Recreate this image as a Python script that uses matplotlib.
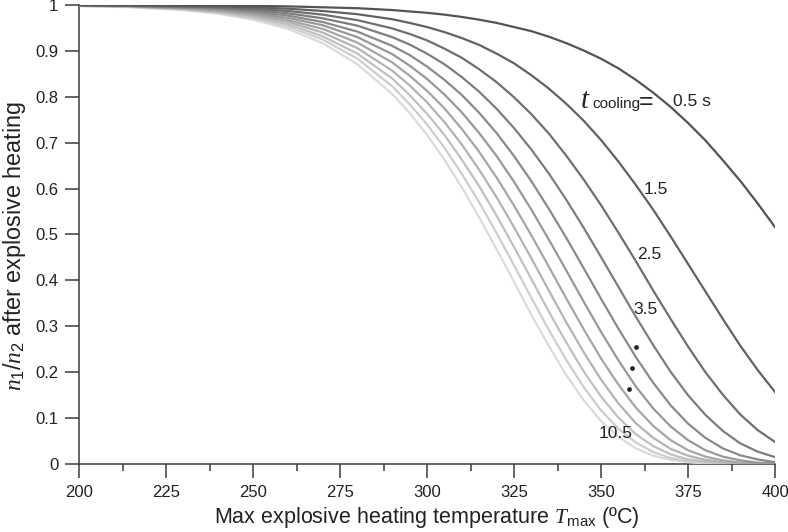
import matplotlib
matplotlib.use("Agg")
import matplotlib.pyplot as plt
import matplotlib.ticker as mticker

# Max explosive heating temperature (degC)
temperature = [200, 215, 230, 240, 250, 260, 270, 280, 290, 295, 300, 305, 310, 315, 320,
               325, 330, 335, 340, 345, 350, 355, 360, 365, 370, 375, 380, 385, 390, 395, 400]

# cooling times (s) and n1/n2
cooling_times = [0.5, 1.5, 2.5, 3.5, 4.5, 5.5, 6.5, 7.5, 8.5, 9.5, 10.5]
ratio_0p5 = [1.000, 1.000, 0.999, 0.999, 0.998, 0.997, 0.995, 0.993, 0.989, 0.986, 0.983, 0.979, 0.974, 0.968, 0.961,
             0.952, 0.943, 0.931, 0.917, 0.901, 0.883, 0.862, 0.837, 0.809, 0.778, 0.743, 0.705, 0.662, 0.617, 0.568, 0.516]
ratio_1p5 = [1.000, 0.999, 0.998, 0.997, 0.995, 0.992, 0.987, 0.980, 0.969, 0.961, 0.952, 0.941, 0.928, 0.913, 0.894,
             0.873, 0.847, 0.818, 0.785, 0.748, 0.706, 0.659, 0.608, 0.554, 0.496, 0.436, 0.376, 0.316, 0.258, 0.205, 0.157]
ratio_2p5 = [1.000, 0.999, 0.997, 0.995, 0.992, 0.987, 0.979, 0.967, 0.949, 0.937, 0.923, 0.905, 0.885, 0.860, 0.832,
             0.799, 0.762, 0.720, 0.672, 0.620, 0.564, 0.504, 0.442, 0.378, 0.316, 0.256, 0.200, 0.151, 0.108, 0.074, 0.048]
ratio_3p5 = [0.999, 0.998, 0.996, 0.994, 0.989, 0.982, 0.971, 0.955, 0.930, 0.914, 0.894, 0.871, 0.843, 0.811, 0.774,
             0.732, 0.685, 0.633, 0.576, 0.515, 0.451, 0.386, 0.321, 0.259, 0.201, 0.150, 0.107, 0.072, 0.045, 0.027, 0.015]
ratio_4p5 = [0.999, 0.998, 0.995, 0.992, 0.986, 0.977, 0.963, 0.942, 0.911, 0.891, 0.866, 0.837, 0.804, 0.765, 0.721,
             0.671, 0.616, 0.556, 0.493, 0.427, 0.360, 0.295, 0.233, 0.177, 0.128, 0.088, 0.057, 0.034, 0.019, 0.010, 0.004]
ratio_5p5 = [0.999, 0.998, 0.994, 0.990, 0.983, 0.972, 0.956, 0.930, 0.893, 0.868, 0.839, 0.805, 0.766, 0.721, 0.671,
             0.615, 0.554, 0.489, 0.422, 0.354, 0.288, 0.226, 0.169, 0.121, 0.082, 0.052, 0.030, 0.016, 0.008, 0.003, 0.001]
ratio_6p5 = [0.999, 0.997, 0.993, 0.988, 0.980, 0.967, 0.948, 0.918, 0.875, 0.846, 0.813, 0.775, 0.730, 0.680, 0.624,
             0.563, 0.498, 0.430, 0.361, 0.294, 0.230, 0.173, 0.123, 0.083, 0.052, 0.030, 0.016, 0.008, 0.003, 0.001, 0.000]
ratio_7p5 = [0.999, 0.997, 0.992, 0.986, 0.977, 0.963, 0.940, 0.906, 0.857, 0.825, 0.788, 0.745, 0.696, 0.641, 0.581,
             0.516, 0.448, 0.378, 0.309, 0.244, 0.184, 0.132, 0.089, 0.057, 0.033, 0.018, 0.009, 0.004, 0.001, 0.000, 0.000]
ratio_8p5 = [0.998, 0.996, 0.991, 0.985, 0.974, 0.958, 0.932, 0.894, 0.840, 0.804, 0.763, 0.717, 0.663, 0.605, 0.541,
             0.473, 0.403, 0.332, 0.265, 0.202, 0.147, 0.101, 0.065, 0.039, 0.021, 0.010, 0.005, 0.002, 0.001, 0.000, 0.000]
ratio_9p5 = [0.998, 0.996, 0.990, 0.983, 0.971, 0.953, 0.925, 0.883, 0.823, 0.784, 0.740, 0.689, 0.632, 0.570, 0.503,
             0.433, 0.362, 0.292, 0.227, 0.168, 0.117, 0.077, 0.047, 0.026, 0.013, 0.006, 0.002, 0.001, 0.000, 0.000, 0.000]
ratio_10p5 = [0.998, 0.995, 0.989, 0.981, 0.968, 0.948, 0.917, 0.871, 0.806, 0.765, 0.717, 0.663, 0.603, 0.537, 0.468,
              0.397, 0.325, 0.257, 0.194, 0.139, 0.094, 0.059, 0.034, 0.018, 0.009, 0.004, 0.001, 0.000, 0.000, 0.000, 0.000]

curves = [ratio_0p5, ratio_1p5, ratio_2p5, ratio_3p5, ratio_4p5, ratio_5p5,
          ratio_6p5, ratio_7p5, ratio_8p5, ratio_9p5, ratio_10p5]

plt.rcParams['font.family'] = ['Liberation Sans', 'DejaVu Sans']
plt.rcParams['mathtext.fontset'] = 'custom'
plt.rcParams['mathtext.rm'] = 'Liberation Sans'
plt.rcParams['mathtext.it'] = 'Liberation Serif:italic'
plt.rcParams['mathtext.bf'] = 'Liberation Sans:bold'

W, H = 788, 532
axis_col = '#3a3a3a'
text_col = '#222222'


def fx(px):
    return px / W


def fy(py):
    # pixel row from the top -> figure fraction
    return 1 - py / H


fig = plt.figure(figsize=(W / 100, H / 100), dpi=100)
ax = fig.add_axes([fx(79), fy(464), fx(775) - fx(79), fy(5) - fy(464)])

# dark -> light grey as cooling time grows
n = len(curves)
for i, vals in enumerate(curves):
    g = 0.33 + (0.86 - 0.33) * i / (n - 1)
    ax.plot(temperature, vals, color=(g, g, g), linewidth=1.6, zorder=3 + n - i)

ax.set_xlim(200, 400)
ax.set_ylim(0, 1)
ax.xaxis.set_major_locator(mticker.MultipleLocator(25))
ax.xaxis.set_minor_locator(mticker.MultipleLocator(12.5))
ax.yaxis.set_major_locator(mticker.MultipleLocator(0.1))
ax.yaxis.set_major_formatter(mticker.FuncFormatter(lambda v, p: f'{v:.1f}'.rstrip('0').rstrip('.') if v else '0'))

for side in ['top', 'right']:
    ax.spines[side].set_visible(False)
for side in ['left', 'bottom']:
    ax.spines[side].set_color(axis_col)
    ax.spines[side].set_linewidth(1.1)
ax.tick_params(which='major', direction='out', length=10, width=1.1, color=axis_col,
               labelsize=12, labelcolor=text_col, pad=5)
ax.tick_params(which='minor', direction='out', length=5, width=1.1, color=axis_col)

# axis titles placed by hand
fig.text(fx(427), fy(523), r'Max explosive heating temperature $T_{\mathrm{max}}$ (ºC)',
         fontsize=15.5, color=text_col, ha='center', va='baseline')
fig.text(fx(15), fy(246), r'$n_1/n_2$ after explosive heating', fontsize=16.8,
         color=text_col, ha='center', va='center', rotation=90)

# curve labels
fig.text(fx(580), fy(108), r'$t$', fontsize=21, color=text_col, ha='left', va='baseline')
fig.text(fx(592), fy(108), 'cooling', fontsize=11, color=text_col, ha='left', va='baseline')
fig.text(fx(639), fy(109), '=', fontsize=18, color=text_col, ha='left', va='baseline')

lab = dict(fontsize=12.5, color=text_col, ha='center', va='center')
fig.text(fx(692), fy(102), '0.5 s', **lab)
fig.text(fx(656), fy(189), '1.5', **lab)
fig.text(fx(649), fy(254), '2.5', **lab)
fig.text(fx(645), fy(309), '3.5', **lab)
fig.text(fx(616), fy(434), '10.5', **lab)
dots_x = [636, 632, 629]
dots_y = [347, 368, 389]
ax.plot([fx(v) for v in dots_x], [fy(v) for v in dots_y], linestyle='none', marker='o',
        markersize=2.4, color=text_col, transform=fig.transFigure, clip_on=False, zorder=20)

fig.savefig('out.png', dpi=100)
